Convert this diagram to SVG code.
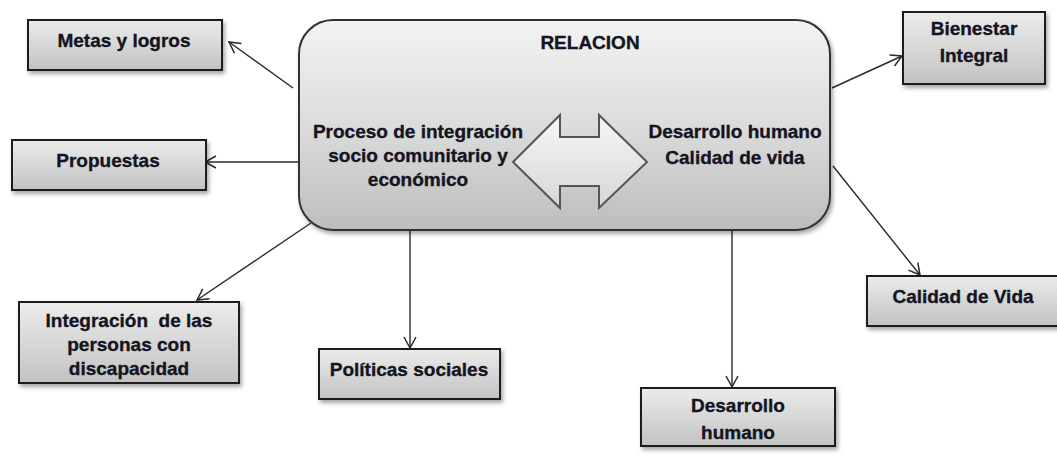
<svg xmlns="http://www.w3.org/2000/svg" width="1057" height="455" viewBox="0 0 1057 455">
<style>
  .box{fill:url(#gBox);stroke:#1e1e1e;stroke-width:2;filter:url(#sh)}
  .main{fill:url(#gMain);stroke:#333;stroke-width:2;filter:url(#sh)}
  .t{font-family:"Liberation Sans",Arial,sans-serif;font-weight:bold;font-size:19px;fill:#141422;stroke:#141422;stroke-width:0.35;text-anchor:middle}
  .c{fill:none;stroke:#2a2a2a;stroke-width:1.4}
</style>
<defs>
  <linearGradient id="gBox" x1="0" y1="0" x2="0" y2="1">
    <stop offset="0" stop-color="#ececec"/>
    <stop offset="1" stop-color="#c2c2c2"/>
  </linearGradient>
  <linearGradient id="gMain" x1="0" y1="0" x2="0" y2="1">
    <stop offset="0" stop-color="#f3f3f3"/>
    <stop offset="0.5" stop-color="#dcdcdc"/>
    <stop offset="1" stop-color="#bdbdbd"/>
  </linearGradient>
  <linearGradient id="gArr" x1="0" y1="0" x2="0" y2="1">
    <stop offset="0" stop-color="#f7f7f7"/>
    <stop offset="1" stop-color="#d6d6d6"/>
  </linearGradient>
  <filter id="sh" x="-10%" y="-10%" width="130%" height="130%">
    <feDropShadow dx="2" dy="3" stdDeviation="2" flood-color="#000" flood-opacity="0.35"/>
  </filter>
  <marker id="ah" markerUnits="userSpaceOnUse" markerWidth="16" markerHeight="16" viewBox="-12 -8 16 16" refX="0" refY="0" orient="auto">
    <path d="M-11,-6 L0,0 L-11,6" fill="none" stroke="#2a2a2a" stroke-width="1.5"/>
  </marker>
</defs>

<g id="connectors">
  <line class="c" x1="293" y1="88" x2="229" y2="42" marker-end="url(#ah)"/>
  <line class="c" x1="300" y1="162" x2="205" y2="162" marker-end="url(#ah)"/>
  <line class="c" x1="832" y1="88" x2="902" y2="56" marker-end="url(#ah)"/>
  <line class="c" x1="833" y1="166" x2="920" y2="275" marker-end="url(#ah)"/>
  <line class="c" x1="311" y1="223" x2="197" y2="300" marker-end="url(#ah)"/>
  <line class="c" x1="410" y1="230" x2="410" y2="348" marker-end="url(#ah)"/>
  <line class="c" x1="732" y1="230" x2="732" y2="387" marker-end="url(#ah)"/>
</g>

<g id="relacion">
  <rect class="main" x="299" y="20" width="531" height="210" rx="34" ry="34"/>
  <text class="t" x="590" y="49">RELACION</text>
  <text class="t" x="418" y="138">Proceso de integración</text>
  <text class="t" x="418" y="162">socio comunitario y</text>
  <text class="t" x="418" y="186">económico</text>
  <text class="t" x="735" y="138">Desarrollo humano</text>
  <text class="t" x="735" y="164">Calidad de vida</text>
  <polygon points="513,162 560,115 560,137 599,137 599,115 647,162 599,208 599,186 560,186 560,208" fill="url(#gArr)" stroke="#555" stroke-width="2" stroke-linejoin="miter"/>
</g>

<g id="metas">
  <rect class="box" x="28" y="20" width="194" height="50"/>
  <text class="t" x="124" y="47">Metas y logros</text>
</g>

<g id="propuestas">
  <rect class="box" x="12" y="140" width="194" height="50"/>
  <text class="t" x="108" y="167">Propuestas</text>
</g>

<g id="bienestar">
  <rect class="box" x="903" y="12" width="142" height="72"/>
  <text class="t" x="974" y="35">Bienestar</text>
  <text class="t" x="974" y="62">Integral</text>
</g>

<g id="calidad">
  <rect class="box" x="867" y="276" width="195" height="50"/>
  <text class="t" x="963" y="303">Calidad de Vida</text>
</g>

<g id="integracion">
  <rect class="box" x="19" y="302" width="220" height="81"/>
  <text class="t" x="129" y="327" xml:space="preserve">Integración  de las</text>
  <text class="t" x="129" y="351">personas con</text>
  <text class="t" x="129" y="375">discapacidad</text>
</g>

<g id="politicas">
  <rect class="box" x="319" y="349" width="181" height="50"/>
  <text class="t" x="409" y="376">Políticas sociales</text>
</g>

<g id="desarrollo">
  <rect class="box" x="641" y="388" width="194" height="58"/>
  <text class="t" x="738" y="412">Desarrollo</text>
  <text class="t" x="738" y="439">humano</text>
</g>
</svg>
